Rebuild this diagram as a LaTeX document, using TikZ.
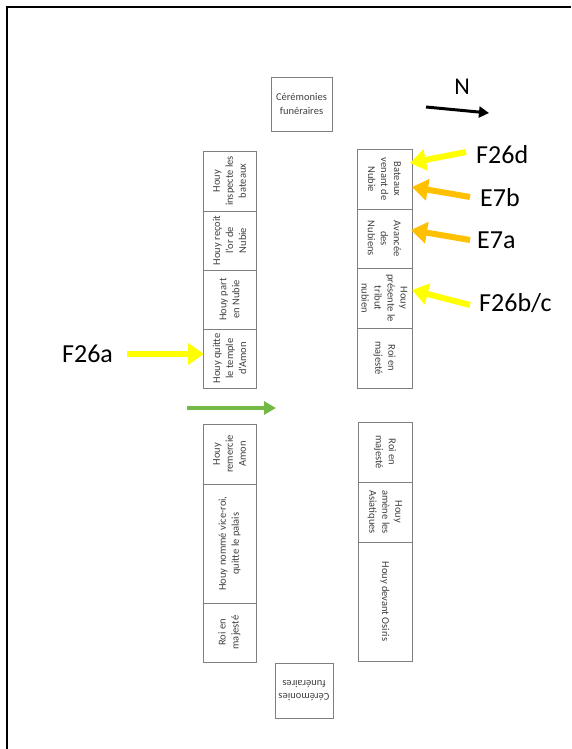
\documentclass[tikz,border=0pt]{standalone}
\usepackage{fontspec}
\setmainfont{Carlito}
\usetikzlibrary{arrows.meta}
\definecolor{boxgray}{HTML}{7F7F7F}
\definecolor{txtgray}{HTML}{404040}
\definecolor{yel}{HTML}{FFFF00}
\definecolor{org}{HTML}{FFC000}
\definecolor{grn}{HTML}{74B846}
\begin{document}
\begin{tikzpicture}[x=1pt,y=-1pt,
  panel/.style={draw=boxgray, line width=0.8pt, align=center, text=txtgray,
    font=\fontsize{10.5}{13}\selectfont, inner sep=1pt},
  upcol/.style={panel, rotate=90, minimum height=53pt},
  downcol/.style={panel, rotate=-90, minimum height=55pt},
  cerbox/.style={panel, font=\fontsize{10.5}{13.5}\selectfont},
  lbl/.style={anchor=west, font=\fontsize{26}{30}\selectfont, inner sep=0pt},
  yarrow/.style={draw=yel, line width=6pt, -{Triangle[length=16pt,width=21pt]}},
  oarrow/.style={draw=org, line width=6pt, -{Triangle[length=16pt,width=21pt]}},
  garrow/.style={draw=grn, line width=4pt, -{Triangle[length=12pt,width=13pt]}},
  narrow/.style={draw=black, line width=3pt, -{Triangle[length=10pt,width=11pt]}}
]
\useasboundingbox (0,0) rectangle (571,749);
% frame
\draw[line width=2pt] (7,749) -- (7,7) -- (571,7);

% ceremonies
\node[cerbox, minimum width=61pt, minimum height=54pt] (cerTop) at (301.5,104) {Cérémonies\\funéraires};
\node[cerbox, rotate=180, minimum width=58pt, minimum height=55pt] (cerBot) at (304,690.5) {Cérémonies\\funéraires};

% left upper column
\node[upcol, minimum width=60pt] (lu1) at (229.5,181) {Houy\\inspecte les\\bateaux};
\node[upcol, minimum width=59pt] (lu2) at (229.5,240.5) {Houy reçoit\\l'or de\\Nubie};
\node[upcol, minimum width=59pt] (lu3) at (229.5,299.5) {Houy part\\en Nubie};
\node[upcol, minimum width=59pt] (lu4) at (229.5,358.5) {Houy quitte\\le temple\\d'Amon};

% right upper column
\node[downcol, minimum width=60pt] (ru1) at (384.5,179) {Bateaux\\venant de\\Nubie};
\node[downcol, minimum width=59pt] (ru2) at (384.5,238.5) {Avancée\\des\\Nubiens};
\node[downcol, minimum width=60pt] (ru3) at (384.5,298) {Houy\\présente le\\tribut\\nubien};
\node[downcol, minimum width=60pt] (ru4) at (384.5,358) {Roi en\\majesté};

% left lower column
\node[upcol, minimum width=60pt] (ll1) at (229.5,454) {Houy\\remercie\\Amon};
\node[upcol, minimum width=119pt] (ll2) at (229.5,543.5) {Houy nommé vice-roi,\\quitte le palais};
\node[upcol, minimum width=59pt] (ll3) at (229.5,632.5) {Roi en\\majesté};

% right lower column
\node[downcol, minimum height=54pt, minimum width=60pt] (rl1) at (385,452) {Roi en\\majesté};
\node[downcol, minimum height=54pt, minimum width=60pt] (rl2) at (385,512) {Houy\\amène les\\Asiatiques};
\node[downcol, minimum height=54pt, minimum width=119pt] (rl3) at (385,601.5) {Houy devant Osiris};

% north arrow
\coordinate (nA) at (426,107);
\coordinate (nB) at (489,113);
\draw[narrow] (nA) -- (nB);
\node[font=\fontsize{24}{28}\selectfont, inner sep=0pt] (nLbl) at (462,87) {N};

% annotation arrows
\coordinate (t1) at (466,152); \coordinate (h1) at (410,163);
\coordinate (t2) at (470,197); \coordinate (h2) at (412,187);
\coordinate (t3) at (470,240); \coordinate (h3) at (411,230);
\coordinate (t4) at (470,305); \coordinate (h4) at (412,290);
\coordinate (t5) at (127,354); \coordinate (h5) at (204,354);
\draw[yarrow] (t1) -- (h1);
\draw[oarrow] (t2) -- (h2);
\draw[oarrow] (t3) -- (h3);
\draw[yarrow] (t4) -- (h4);
\draw[yarrow] (t5) -- (h5);

\node[lbl] (F26d) at (476,155) {F26d};
\node[lbl] (E7b) at (480,198) {E7b};
\node[lbl] (E7a) at (477,240) {E7a};
\node[lbl] (F26bc) at (479,303) {F26b/c};
\node[lbl] (F26a) at (62,354) {F26a};

% green arrow
\coordinate (g1) at (187,408);
\coordinate (g2) at (276,408);
\draw[garrow] (g1) -- (g2);
\end{tikzpicture}
\end{document}
